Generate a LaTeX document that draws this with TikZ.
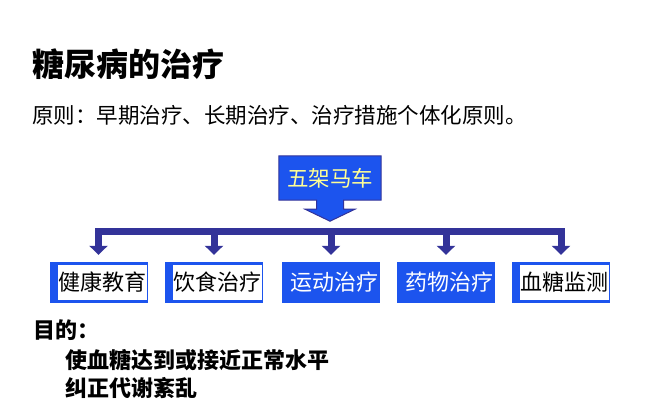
\documentclass[tikz,border=0pt]{standalone}
\usepackage{fontspec}
\usepackage{tikz}
\usetikzlibrary{calc, arrows.meta, positioning, backgrounds}
\newfontfamily\cjk{Noto Sans CJK SC}
\definecolor{boxblue}{RGB}{28,84,238}
\definecolor{barblue}{RGB}{51,51,153}
\definecolor{calloutyellow}{RGB}{255,255,150}

\begin{document}
\begin{tikzpicture}[
    x=1pt, y=-1pt,
    txt/.style={anchor=base west, inner sep=0pt, font=\cjk\fontsize{21.5}{24}\selectfont},
    boldtxt/.style={txt, font=\cjk\bfseries\fontsize{22}{24}\selectfont},
    headline/.style={txt, font=\cjk\bfseries\fontsize{32}{34}\selectfont},
    solidbox/.style={rectangle, fill=boxblue, minimum width=98pt, minimum height=41pt, inner sep=0pt, text=white, font=\cjk\fontsize{22}{24}\selectfont, execute at begin node=\hspace*{7pt}},
    framebox/.style={solidbox, text=black, path picture={\fill[white] ([xshift=8pt, yshift=-3pt]path picture bounding box.north west) rectangle ([xshift=-1pt, yshift=3pt]path picture bounding box.south east);}},
    callout/.style={fill=boxblue, draw=barblue, line width=1pt, line join=miter},
    bus/.style={draw=barblue, line width=7pt, line cap=rect},
    branch/.style={draw=barblue, line width=7pt, -{Triangle[width=18pt, length=9pt]}}
]
    \useasboundingbox (0,0) rectangle (667,400);

    % Heading and principle
    \node[headline] (title) at (32,76) {糖尿病的治疗};
    \node[txt] (rule) at (32,123) {原则：早期治疗、长期治疗、治疗措施个体化原则。};

    % Callout: five carriages
    \node (top) at (330,178) [minimum width=102pt, minimum height=44pt, inner sep=0pt, text=calloutyellow, font=\cjk\fontsize{21.5}{24}\selectfont] {五架马车};
    \begin{scope}[on background layer]
        \filldraw[callout] (top.north west) -- (top.north east) -- (top.south east)
            -- ($(top.south)+(13.5,0)$) -- ($(top.south)+(13.5,9)$) -- ($(top.south)+(25,9)$)
            -- ($(top.south)+(0,21)$)
            -- ($(top.south)+(-25,9)$) -- ($(top.south)+(-13.5,9)$) -- ($(top.south)+(-13.5,0)$)
            -- (top.south west) -- cycle;
    \end{scope}

    % Row of measures (y = 282.5)
    \node (edu) at (98.5,282.5) [framebox] {健康教育};
    \node (diet) at (214,282.5) [framebox] {饮食治疗};
    \node (sport) at (331,282.5) [solidbox] {运动治疗};
    \node (drug) at (446,282.5) [solidbox] {药物治疗};
    \node (monitor) at (561,282.5) [framebox] {血糖监测};

    % Distribution bar and branches
    \coordinate (bus) at (330,231.5);
    \draw [bus] (edu.north |- bus) -- (monitor.north |- bus);
    \foreach \m in {edu, diet, sport, drug, monitor}
        \draw [branch] (\m.north |- bus) -- ([yshift=7pt]\m.north);

    % Aims
    \node[boldtxt] (goal) at (33,338) {目的：};
    \node[boldtxt] (goal1) at (65,368) {使血糖达到或接近正常水平};
    \node[boldtxt] (goal2) at (65,396) {纠正代谢紊乱};

\end{tikzpicture}
\end{document}
